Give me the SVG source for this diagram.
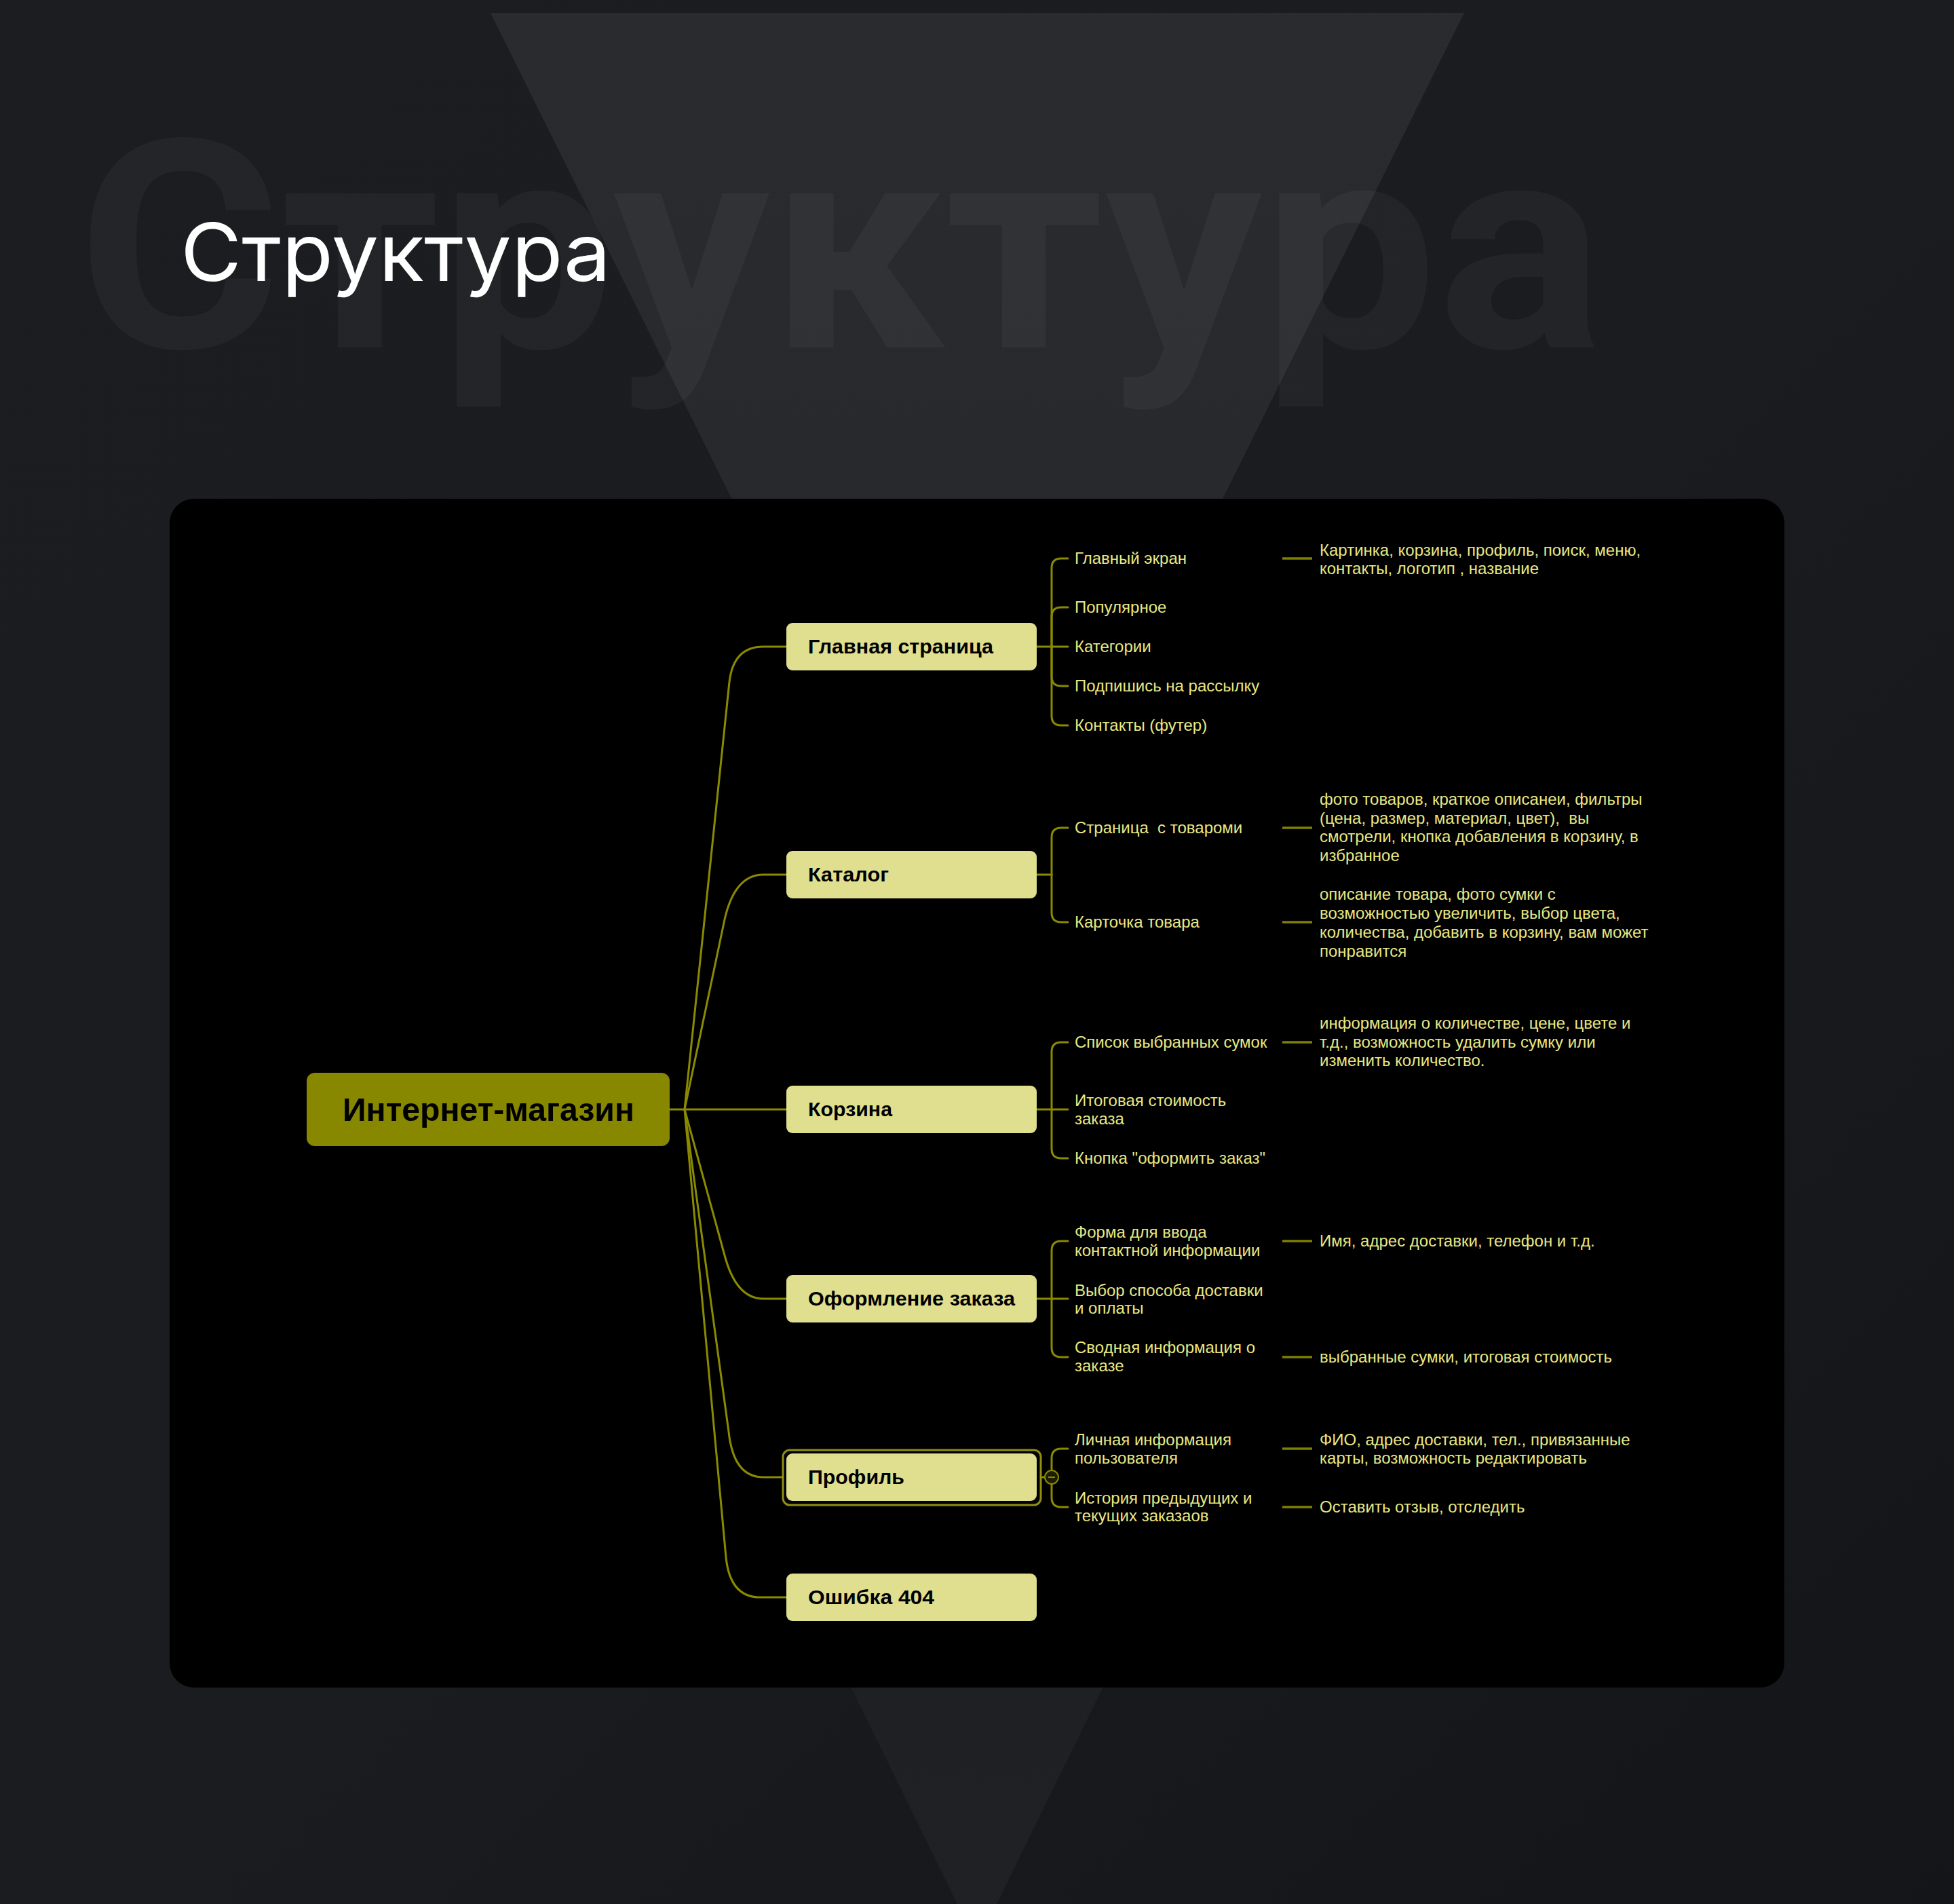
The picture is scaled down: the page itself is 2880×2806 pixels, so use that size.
<svg xmlns="http://www.w3.org/2000/svg" width="2880" height="2806" viewBox="0 0 2880 2806">
<defs>
<linearGradient id="bg" x1="0" y1="0" x2="1" y2="1">
<stop offset="0" stop-color="#1c1d20"/>
<stop offset="0.5" stop-color="#1b1c1f"/>
<stop offset="1" stop-color="#141518"/>
</linearGradient>
<linearGradient id="tri" x1="0" y1="0" x2="0" y2="1">
<stop offset="0" stop-color="#2a2b2e"/>
<stop offset="1" stop-color="#26272a"/>
</linearGradient>
<linearGradient id="tri2" x1="0" y1="0" x2="0" y2="1">
<stop offset="0" stop-color="#1d1e21"/>
<stop offset="1" stop-color="#202124"/>
</linearGradient>
<style>
.l1box{fill:#dfdf8f}
.l1txt{font-family:"Liberation Sans",Arial,sans-serif;font-weight:700;font-size:29px;fill:#000}
.l2{font-family:"Liberation Sans",Arial,sans-serif;font-size:24px;fill:#e8e884}
.con{fill:none;stroke:#8a8a00;stroke-width:3;stroke-linecap:round}
.dash{fill:none;stroke:#7f7f00;stroke-width:3.5}
</style>
</defs>
<rect x="0" y="0" width="2880" height="2806" fill="url(#bg)"/>
<polygon points="723,19 2158,19 1440,1463" fill="url(#tri)"/>
<polygon points="820,1600 2060,1600 1440,2865" fill="url(#tri2)"/>
<text x="114" y="512" font-family="Roboto,'Liberation Sans',sans-serif" font-weight="700" font-size="430" fill="#ffffff" fill-opacity="0.04" textLength="2250" lengthAdjust="spacingAndGlyphs">Структура</text>
<text x="266" y="414" font-family="Inter,'Open Sans',sans-serif" font-weight="400" font-size="118" fill="#ffffff" textLength="634" lengthAdjust="spacingAndGlyphs">Структура</text>
<rect x="250" y="735" width="2380" height="1752" rx="36" fill="#000000"/>

<g id="connectors">
<path class="con" d="M987 1635 L1009 1635"/>
<path class="con" d="M1009 1635 L1075 1005 Q1081 953 1125 953 L1159 953"/>
<path class="con" d="M1009 1635 L1068 1355 Q1083 1289 1125 1289 L1159 1289"/>
<path class="con" d="M1009 1635 L1159 1635"/>
<path class="con" d="M1009 1635 L1068 1850 Q1085 1914 1125 1914 L1159 1914"/>
<path class="con" d="M1009 1635 L1074 2110 Q1081 2177 1125 2177 L1154 2177"/>
<path class="con" d="M1009 1635 L1070 2295 Q1076 2354 1120 2354 L1159 2354"/>

<path class="con" d="M1528 953 L1550 953"/>
<path class="con" d="M1550 953 L1550 837 Q1550 823 1564 823 L1574 823"/>
<path class="con" d="M1550 953 L1550 909 Q1550 895 1564 895 L1574 895"/>
<path class="con" d="M1550 953 L1574 953"/>
<path class="con" d="M1550 953 L1550 997 Q1550 1011 1564 1011 L1574 1011"/>
<path class="con" d="M1550 953 L1550 1055 Q1550 1069 1564 1069 L1574 1069"/>
<path class="dash" d="M1890 823 L1934 823"/>

<path class="con" d="M1528 1289 L1550 1289"/>
<path class="con" d="M1550 1289 L1550 1234 Q1550 1220 1564 1220 L1574 1220"/>
<path class="con" d="M1550 1289 L1550 1345 Q1550 1359 1564 1359 L1574 1359"/>
<path class="dash" d="M1890 1220 L1934 1220"/>
<path class="dash" d="M1890 1359 L1934 1359"/>

<path class="con" d="M1528 1635 L1550 1635"/>
<path class="con" d="M1550 1635 L1550 1550 Q1550 1536 1564 1536 L1574 1536"/>
<path class="con" d="M1550 1635 L1574 1635"/>
<path class="con" d="M1550 1635 L1550 1693 Q1550 1707 1564 1707 L1574 1707"/>
<path class="dash" d="M1890 1536 L1934 1536"/>

<path class="con" d="M1528 1914 L1550 1914"/>
<path class="con" d="M1550 1914 L1550 1843 Q1550 1829 1564 1829 L1574 1829"/>
<path class="con" d="M1550 1914 L1574 1914"/>
<path class="con" d="M1550 1914 L1550 1986 Q1550 2000 1564 2000 L1574 2000"/>
<path class="dash" d="M1890 1829 L1934 1829"/>
<path class="dash" d="M1890 2000 L1934 2000"/>

<path class="con" d="M1534 2177 L1550 2177"/>
<path class="con" d="M1550 2177 L1550 2149 Q1550 2135 1564 2135 L1574 2135"/>
<path class="con" d="M1550 2177 L1550 2207 Q1550 2221 1564 2221 L1574 2221"/>
<path class="dash" d="M1890 2135 L1934 2135"/>
<path class="dash" d="M1890 2221 L1934 2221"/>
<circle cx="1550" cy="2177" r="10" fill="#1c1c00" stroke="#8a8a00" stroke-width="2"/>
<path d="M1545 2177 L1555 2177" stroke="#8a8a00" stroke-width="2"/>
</g>

<g id="root">
<rect x="452" y="1581" width="535" height="108" rx="12" fill="#878700"/>
<text x="720" y="1652" text-anchor="middle" font-family="'Liberation Sans',Arial,sans-serif" font-weight="700" font-size="48" fill="#000" textLength="430" lengthAdjust="spacingAndGlyphs">Интернет-магазин</text>
</g>

<g id="n-glavnaya">
<rect class="l1box" x="1159" y="918" width="369" height="70" rx="9"/>
<text class="l1txt" x="1191" y="963" textLength="273" lengthAdjust="spacingAndGlyphs">Главная страница</text>
</g>
<g id="n-katalog">
<rect class="l1box" x="1159" y="1254" width="369" height="70" rx="9"/>
<text class="l1txt" x="1191" y="1299" textLength="119" lengthAdjust="spacingAndGlyphs">Каталог</text>
</g>
<g id="n-korzina">
<rect class="l1box" x="1159" y="1600" width="369" height="70" rx="9"/>
<text class="l1txt" x="1191" y="1645" textLength="124" lengthAdjust="spacingAndGlyphs">Корзина</text>
</g>
<g id="n-oformlenie">
<rect class="l1box" x="1159" y="1879" width="369" height="70" rx="9"/>
<text class="l1txt" x="1191" y="1924" textLength="305" lengthAdjust="spacingAndGlyphs">Оформление заказа</text>
</g>
<g id="n-profil">
<rect x="1154" y="2137" width="380" height="81" rx="10" fill="none" stroke="#8f8f10" stroke-width="3"/>
<rect class="l1box" x="1159" y="2142" width="369" height="70" rx="9"/>
<text class="l1txt" x="1191" y="2187" textLength="142" lengthAdjust="spacingAndGlyphs">Профиль</text>
</g>
<g id="n-404">
<rect class="l1box" x="1159" y="2319" width="369" height="70" rx="9"/>
<text class="l1txt" x="1191" y="2364" textLength="186" lengthAdjust="spacingAndGlyphs">Ошибка 404</text>
</g>

<g id="glavnaya-children">
<text class="l2" x="1584" y="831">Главный экран</text>
<text class="l2" x="1584" y="903">Популярное</text>
<text class="l2" x="1584" y="961">Категории</text>
<text class="l2" x="1584" y="1019">Подпишись на рассылку</text>
<text class="l2" x="1584" y="1077">Контакты (футер)</text>
<text class="l2" x="1945" y="819">Картинка, корзина, профиль, поиск, меню,</text>
<text class="l2" x="1945" y="846">контакты, логотип , название</text>
</g>
<g id="katalog-children">
<text class="l2" x="1584" y="1228" xml:space="preserve">Страница  с товароми</text>
<text class="l2" x="1584" y="1367">Карточка товара</text>
<text class="l2" x="1945" y="1186">фото товаров, краткое описанеи, фильтры</text>
<text class="l2" x="1945" y="1214" xml:space="preserve">(цена, размер, материал, цвет),  вы</text>
<text class="l2" x="1945" y="1241">смотрели, кнопка добавления в корзину, в</text>
<text class="l2" x="1945" y="1269">избранное</text>
<text class="l2" x="1945" y="1326">описание товара, фото сумки с</text>
<text class="l2" x="1945" y="1354">возможностью увеличить, выбор цвета,</text>
<text class="l2" x="1945" y="1382">количества, добавить в корзину, вам может</text>
<text class="l2" x="1945" y="1410">понравится</text>
</g>
<g id="korzina-children">
<text class="l2" x="1584" y="1544">Список выбранных сумок</text>
<text class="l2" x="1584" y="1630">Итоговая стоимость</text>
<text class="l2" x="1584" y="1657">заказа</text>
<text class="l2" x="1584" y="1715">Кнопка "оформить заказ"</text>
<text class="l2" x="1945" y="1516">информация о количестве, цене, цвете и</text>
<text class="l2" x="1945" y="1544">т.д., возможность удалить сумку или</text>
<text class="l2" x="1945" y="1571">изменить количество.</text>
</g>
<g id="oformlenie-children">
<text class="l2" x="1584" y="1824">Форма для ввода</text>
<text class="l2" x="1584" y="1851">контактной информации</text>
<text class="l2" x="1584" y="1910">Выбор способа доставки</text>
<text class="l2" x="1584" y="1936">и оплаты</text>
<text class="l2" x="1584" y="1994">Сводная информация о</text>
<text class="l2" x="1584" y="2021">заказе</text>
<text class="l2" x="1945" y="1837">Имя, адрес доставки, телефон и т.д.</text>
<text class="l2" x="1945" y="2008">выбранные сумки, итоговая стоимость</text>
</g>
<g id="profil-children">
<text class="l2" x="1584" y="2130">Личная информация</text>
<text class="l2" x="1584" y="2157">пользователя</text>
<text class="l2" x="1584" y="2216">История предыдущих и</text>
<text class="l2" x="1584" y="2242">текущих заказаов</text>
<text class="l2" x="1945" y="2130">ФИО, адрес доставки, тел., привязанные</text>
<text class="l2" x="1945" y="2157">карты, возможность редактировать</text>
<text class="l2" x="1945" y="2229">Оставить отзыв, отследить</text>
</g>
</svg>
